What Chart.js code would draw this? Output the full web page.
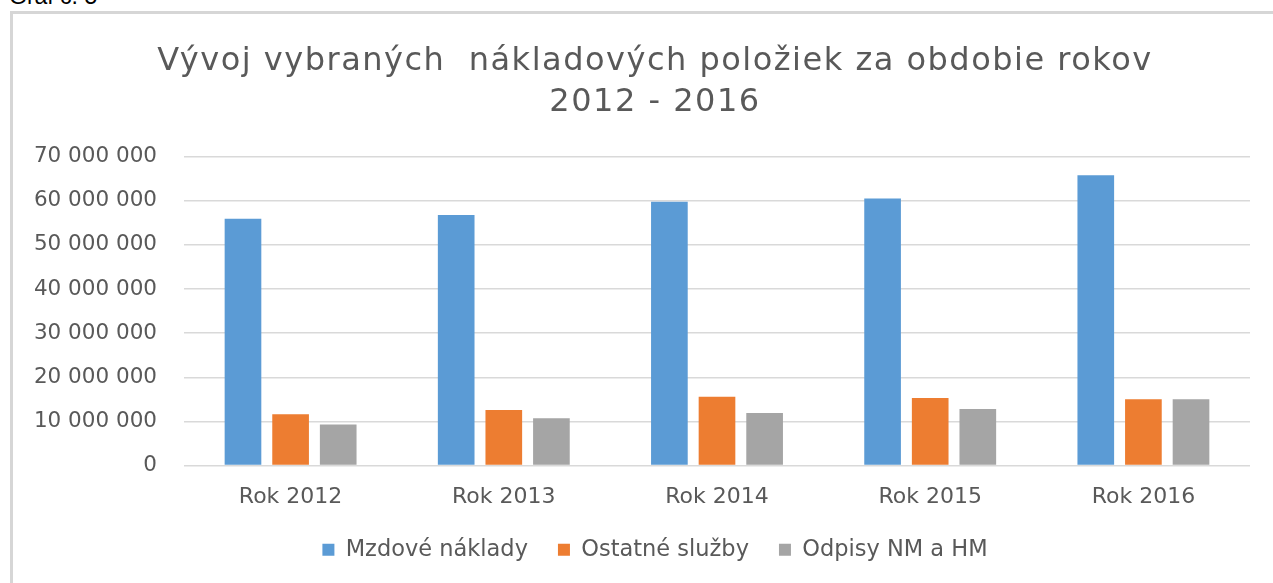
<!DOCTYPE html>
<html>
<head>
<meta charset="utf-8">
<script src="https://cdn.jsdelivr.net/npm/chart.js@4.4.1/dist/chart.umd.min.js"></script>
<style>
  html, body { margin: 0; padding: 0; background: #fff; overflow: hidden; }
  body { width: 1273px; height: 583px; position: relative; }
  #caption { position: absolute; left: 9px; top: -15px; font: 23px "Liberation Sans", Arial, sans-serif; line-height: 23px; color: #000; }
  #frame { position: absolute; left: 10px; top: 11px; width: 1280px; height: 600px;
           border-left: 3px solid #d6d6d6; border-top: 3px solid #d6d6d6; }
  #chart { position: absolute; left: 13px; top: 14px; }
</style>
</head>
<body>
<div id="caption">Graf č. 5</div>
<div id="frame"></div>
<canvas id="chart" width="1284" height="569"></canvas>
<script>
// Categories and series
const years = ['Rok 2012', 'Rok 2013', 'Rok 2014', 'Rok 2015', 'Rok 2016'];
const seriesNames = ['Mzdové náklady', 'Ostatné služby', 'Odpisy NM a HM'];
const mzdoveNaklady = [55900000, 56800000, 59800000, 60500000, 65800000];
const ostatneSluzby = [11600000, 12600000, 15600000, 15300000, 15000000];
const odpisyNmHm = [9300000, 10700000, 11900000, 12800000, 15000000];
const yTicks = [0, 10000000, 20000000, 30000000, 40000000, 50000000, 60000000, 70000000];

const textColor = '#595959';
const fontFamily = '"DejaVu Sans", sans-serif';

// 70000000 -> "70 000 000"
function formatNumber(v) {
  return String(v).replace(/\B(?=(\d{3})+(?!\d))/g, ' ');
}

// the reference title is set a bit wider, add some letter spacing to it
const titleSpacing = {
  id: 'titleSpacing',
  beforeDraw(chart) {
    const tb = chart.titleBlock;
    if (!tb || tb._spaced) return;
    const draw = tb.draw;
    tb.draw = function () {
      const c = this.ctx;
      const prev = c.letterSpacing;
      c.letterSpacing = '1.5px';
      draw.apply(this, arguments);
      c.letterSpacing = prev || '0px';
    };
    tb._spaced = true;
  }
};

const ctx = document.getElementById('chart').getContext('2d');
new Chart(ctx, {
  type: 'bar',
  data: {
    labels: years,
    datasets: [
      { label: seriesNames[0], data: mzdoveNaklady, backgroundColor: '#5b9bd5', borderWidth: 0 },
      { label: seriesNames[1], data: ostatneSluzby, backgroundColor: '#ed7d31', borderWidth: 0 },
      { label: seriesNames[2], data: odpisyNmHm, backgroundColor: '#a5a5a5', borderWidth: 0 }
    ]
  },
  plugins: [titleSpacing],
  options: {
    responsive: false,
    animation: false,
    categoryPercentage: 0.67,
    barPercentage: 0.77,
    layout: { padding: { left: 0, right: 0, top: 0, bottom: 12 } },
    scales: {
      x: {
        grid: { display: false, drawTicks: false },
        border: { display: false },
        ticks: { color: textColor, font: { family: fontFamily, size: 22, lineHeight: 1 }, padding: 21 },
        afterFit: s => { s.height = 43; }
      },
      y: {
        min: 0,
        max: 70000000,
        afterBuildTicks: s => { s.ticks = yTicks.map(v => ({ value: v })); },
        grid: { color: '#d9d9d9', lineWidth: 1.5, drawTicks: false },
        border: { display: false },
        ticks: {
          color: textColor,
          font: { family: fontFamily, size: 21.5 },
          padding: 27,
          callback: v => formatNumber(v)
        },
        afterFit: s => { s.width = 171; }
      },
      // empty spacer on the right, keeps the plot end where the reference has it
      spacer: {
        position: 'right',
        grid: { display: false, drawTicks: false },
        border: { display: false },
        ticks: { display: false },
        afterFit: s => { s.width = 47; }
      }
    },
    plugins: {
      legend: {
        position: 'bottom',
        labels: {
          color: textColor,
          font: { family: fontFamily, size: 22.5 },
          boxWidth: 12,
          boxHeight: 12,
          padding: 30
        }
      },
      title: {
        display: true,
        text: ['Vývoj vybraných  nákladových položiek za obdobie rokov', '2012 - 2016'],
        color: textColor,
        font: { family: fontFamily, size: 32, weight: 'normal', lineHeight: 1.26 },
        padding: { top: 28, bottom: 34 }
      },
      tooltip: { enabled: false }
    }
  }
});
</script>
</body>
</html>
